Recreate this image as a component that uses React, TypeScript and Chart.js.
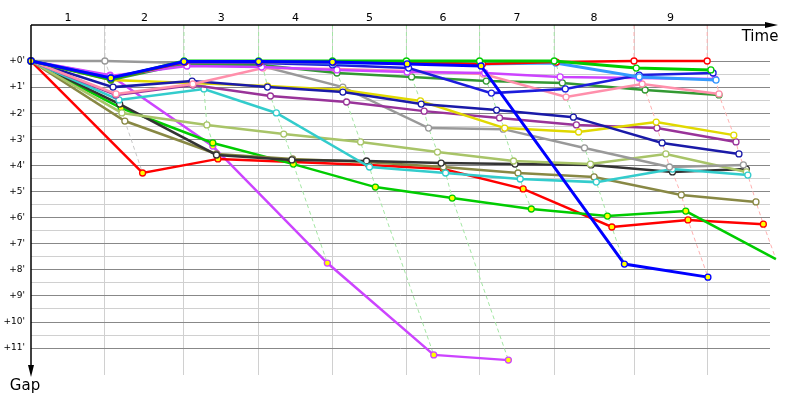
import React, { useEffect, useRef } from "react";
import { Chart, registerables } from "chart.js";

Chart.register(...registerables);

// ---- axis labels ----
const LAP_LABELS = ["1", "2", "3", "4", "5", "6", "7", "8", "9"];
const GAP_MINUTES = [0, 1, 2, 3, 4, 5, 6, 7, 8, 9, 10, 11];
const GAP_MIN = -1.38;
const GAP_MAX = 12.03;
const TIME_MIN = 0;
const TIME_MAX = 100;

// ---- riders: crossing time (min) at lap 0..n, and gap to leader (min) ----
const blueTime = [0, 10.8, 20.7, 30.8, 40.8, 50.9, 60.9, 80.3, 91.6];
const blueGap = [0, 0.65, 0.02, 0.02, 0.04, 0.11, 0.19, 7.78, 8.28];

const greenTime = [0, 10.8, 20.7, 30.8, 40.8, 50.8, 60.7, 70.8, 81.9, 92.0];
const greenGap = [0, 0.69, 0, 0, 0, 0, 0, 0, 0.27, 0.34];

const redTopTime = [0, 10.8, 20.8, 30.9, 40.9, 50.9, 61.1, 71.1, 81.6, 91.5];
const redTopGap = [0, 0.69, 0.04, 0.04, 0.04, 0.04, 0.11, 0.04, 0, 0];

const skyTime = [0, 10.8, 20.8, 30.9, 40.9, 50.9, 60.9, 71.0, 82.3, 92.7];
const skyGap = [0, 0.65, 0.04, 0.04, 0.08, 0.08, 0.11, 0.08, 0.61, 0.73];

const blue2Time = [0, 10.8, 20.8, 30.9, 40.8, 51.1, 62.3, 72.3, 82.3, 92.3];
const blue2Gap = [0, 0.65, 0.04, 0.08, 0.15, 0.27, 1.23, 1.07, 0.54, 0.46];

const violetTime = [0, 10.7, 21.1, 31.2, 41.4, 50.9, 61.4, 71.6, 82.3, 92.6];
const violetGap = [0, 0.57, 0.19, 0.23, 0.34, 0.42, 0.46, 0.61, 0.65, 0.69];

const pinkTime = [0, 11.5, 21.9, 31.4, 41.2, 51.2, 61.2, 72.4, 82.7, 93.1];
const pinkGap = [0, 1.26, 0.88, 0.27, 0.31, 0.38, 0.5, 1.38, 0.88, 1.26];

const darkGreenTime = [0, 10.8, 20.9, 31.1, 41.4, 51.5, 61.6, 71.9, 83.1, 93.1];
const darkGreenGap = [0, 0.73, 0.11, 0.15, 0.46, 0.61, 0.77, 0.84, 1.11, 1.3];

const navyTime = [0, 11.1, 21.8, 32.0, 42.2, 52.8, 63.0, 73.4, 85.4, 95.8];
const navyGap = [0, 1.0, 0.77, 1.0, 1.19, 1.65, 1.88, 2.15, 3.14, 3.56];

const yellowTime = [0, 10.8, 21.8, 32.0, 42.2, 52.7, 64.1, 74.1, 84.6, 95.1];
const yellowGap = [0, 0.73, 0.84, 0.96, 1.11, 1.53, 2.57, 2.72, 2.34, 2.84];

const purpleTime = [0, 11.5, 21.9, 32.4, 42.7, 53.2, 63.4, 73.8, 84.7, 95.4];
const purpleGap = [0, 1.3, 0.92, 1.34, 1.57, 1.92, 2.18, 2.45, 2.57, 3.1];

const grayTime = [0, 10.0, 20.9, 31.2, 42.2, 53.8, 63.9, 74.9, 86.4, 96.4];
const grayGap = [0, 0, 0.08, 0.19, 1.0, 2.57, 2.61, 3.33, 4.06, 3.98];

const cyanTime = [0, 11.9, 23.4, 33.2, 45.8, 56.1, 66.2, 76.5, 86.8, 97.0];
const cyanGap = [0, 1.49, 1.07, 1.99, 4.06, 4.29, 4.52, 4.64, 4.14, 4.37];

const lightOliveTime = [0, 12.3, 23.8, 34.2, 44.6, 55.0, 65.3, 75.7, 85.9, 96.8];
const lightOliveGap = [0, 1.99, 2.45, 2.8, 3.1, 3.49, 3.83, 3.95, 3.56, 4.25];

const blackTime = [0, 12.0, 25.1, 35.3, 45.4, 55.5, 65.5, 75.8, 86.8, 96.8];
const blackGap = [0, 1.65, 3.6, 3.79, 3.83, 3.91, 3.95, 3.98, 4.25, 4.14];

const oliveTime = [0, 12.7, 25.1, 35.4, 45.4, 55.8, 65.9, 76.2, 88.0, 98.1];
const oliveGap = [0, 2.3, 3.56, 3.75, 3.87, 4.06, 4.29, 4.44, 5.13, 5.4];

const greenLowTime = [0, 12.2, 24.6, 35.5, 46.6, 57.0, 67.7, 78.0, 88.6, 100.8];
const greenLowGap = [0, 1.8, 3.14, 3.95, 4.83, 5.25, 5.67, 5.94, 5.75, 7.59];

const redTime = [0, 15.1, 25.3, 35.5, 45.7, 55.8, 66.6, 78.6, 88.9, 99.1];
const redGap = [0, 4.29, 3.75, 3.87, 3.98, 4.14, 4.9, 6.36, 6.09, 6.25];

const magentaTime = [0, 10.7, 24.6, 40.1, 54.5, 64.6];
const magentaGap = [0, 0.54, 3.26, 7.74, 11.26, 11.46];

// ---- styles (first = drawn on top) ----
const YEL = "#ffff00";
const WHITE = "#ffffff";
const riders = [
  { t: blueTime, g: blueGap, color: "#0000ff", fill: YEL, w: 3, lap: "#aaaaff" },
  { t: greenTime, g: greenGap, color: "#00cc00", fill: WHITE, w: 3, lap: "#a3e6a3" },
  { t: redTopTime, g: redTopGap, color: "#ff0000", fill: WHITE, w: 2.5, lap: "#ffb0b0" },
  { t: skyTime, g: skyGap, color: "#3399ff", fill: WHITE, w: 3, lap: "#aaccff" },
  { t: blue2Time, g: blue2Gap, color: "#1c1cdc", fill: WHITE, w: 2.5, lap: "#aaaaff" },
  { t: violetTime, g: violetGap, color: "#cc44ff", fill: WHITE, w: 2.5, lap: "#e8b0ff" },
  { t: pinkTime, g: pinkGap, color: "#ff8fab", fill: WHITE, w: 2.5, lap: "#ffc8d5" },
  { t: darkGreenTime, g: darkGreenGap, color: "#339933", fill: WHITE, w: 2.5, lap: "#aad4aa" },
  { t: navyTime, g: navyGap, color: "#1a1aa8", fill: WHITE, w: 2.5, lap: "#aaaadd" },
  { t: yellowTime, g: yellowGap, color: "#e0d800", fill: WHITE, w: 2.5, lap: "#eeeeaa" },
  { t: purpleTime, g: purpleGap, color: "#993399", fill: WHITE, w: 2.5, lap: "#d6aad6" },
  { t: grayTime, g: grayGap, color: "#999999", fill: WHITE, w: 2.5, lap: "#c8c8c8" },
  { t: cyanTime, g: cyanGap, color: "#33cccc", fill: WHITE, w: 2.5, lap: "#aaeeee" },
  { t: lightOliveTime, g: lightOliveGap, color: "#a8c468", fill: WHITE, w: 2.5, lap: "#dde8c0" },
  { t: blackTime, g: blackGap, color: "#333333", fill: WHITE, w: 2.5, lap: "#bbbbbb" },
  { t: oliveTime, g: oliveGap, color: "#888844", fill: WHITE, w: 2.5, lap: "#cccc99" },
  { t: greenLowTime, g: greenLowGap, color: "#00cc00", fill: YEL, w: 2.5, lap: "#a3e6a3" },
  { t: redTime, g: redGap, color: "#ff0000", fill: YEL, w: 2.5, lap: "#ffb0b0" },
  { t: magentaTime, g: magentaGap, color: "#cc44ff", fill: YEL, w: 2.5, lap: "#e8b0ff" },
];

// leader of each lap (smallest gap)
function lapLeaders() {
  const out: { time: number; color: string }[] = [];
  for (let n = 1; n <= LAP_LABELS.length; n++) {
    let best: any = null;
    for (const r of riders) {
      if (r.t.length > n && (best === null || r.g[n] < best.g[n])) best = r;
    }
    out.push({ time: best.t[n], color: best.lap });
  }
  return out;
}

function lapLines(leaders: { time: number; color: string }[]) {
  return leaders.map((ld, i) => {
    const n = i + 1;
    const pts = riders
      .filter((r) => r.t.length > n)
      .map((r) => ({ x: r.t[n], y: r.g[n] }))
      .sort((a, b) => a.y - b.y || a.x - b.x);
    return {
      type: "line" as const,
      data: [{ x: ld.time, y: GAP_MIN }, ...pts],
      borderColor: ld.color,
      borderWidth: 1,
      borderDash: [4, 3],
      pointRadius: 0,
      fill: false,
      order: 1,
      clip: false as any,
    };
  });
}

const FONT = "'DejaVu Sans', Verdana, sans-serif";

const decorPlugin = {
  id: "decor",
  afterDraw(chart: any) {
    const { ctx, chartArea: a, scales } = chart;
    const xs = scales.x;
    ctx.save();
    ctx.strokeStyle = "#000";
    ctx.fillStyle = "#000";
    ctx.lineWidth = 1.5;
    // x axis with arrow
    ctx.beginPath();
    ctx.moveTo(a.left, a.top);
    ctx.lineTo(a.right - 5, a.top);
    ctx.stroke();
    ctx.beginPath();
    ctx.moveTo(a.right - 5, a.top - 3);
    ctx.lineTo(a.right + 8, a.top);
    ctx.lineTo(a.right - 5, a.top + 3);
    ctx.closePath();
    ctx.fill();
    // y axis with arrow
    ctx.beginPath();
    ctx.moveTo(a.left, a.top);
    ctx.lineTo(a.left, a.bottom - 10);
    ctx.stroke();
    ctx.beginPath();
    ctx.moveTo(a.left - 3, a.bottom - 10);
    ctx.lineTo(a.left, a.bottom + 2);
    ctx.lineTo(a.left + 3, a.bottom - 10);
    ctx.closePath();
    ctx.fill();
    // lap numbers between leader crossing times
    const leaders = lapLeaders();
    ctx.font = `11px ${FONT}`;
    ctx.textAlign = "center";
    ctx.textBaseline = "middle";
    let prev = TIME_MIN;
    leaders.forEach((ld, i) => {
      const mid = (xs.getPixelForValue(prev) + xs.getPixelForValue(ld.time)) / 2;
      ctx.fillText(LAP_LABELS[i], mid, a.top - 7);
      prev = ld.time;
    });
    // axis titles
    ctx.font = `15px ${FONT}`;
    ctx.textBaseline = "alphabetic";
    ctx.fillText("Time", a.right - 10, a.top + 16);
    ctx.fillText("Gap", a.left - 6, a.bottom + 15);
    ctx.restore();
  },
};

export default function App() {
  const ref = useRef<HTMLCanvasElement | null>(null);
  useEffect(() => {
    if (!ref.current) return;
    const leaders = lapLeaders();
    const riderSets = riders.map((r) => ({
      type: "line" as const,
      data: r.t.map((t, i) => ({ x: t, y: r.g[i] })),
      borderColor: r.color,
      borderWidth: r.w,
      pointRadius: 3,
      pointBorderWidth: 1.3,
      pointBorderColor: r.color,
      pointBackgroundColor: r.fill,
      fill: false,
      tension: 0,
      order: 0,
      clip: false as any,
    }));
    const chart = new Chart(ref.current, {
      type: "line",
      data: { datasets: [...riderSets, ...lapLines(leaders)] as any },
      options: {
        animation: false,
        responsive: false,
        events: [],
        layout: { padding: { left: 0, top: 0, right: 30, bottom: 25 } },
        plugins: { legend: { display: false }, tooltip: { enabled: false } },
        scales: {
          x: {
            type: "linear",
            position: "top",
            min: TIME_MIN,
            max: TIME_MAX,
            afterBuildTicks: (s: any) => {
              s.ticks = leaders.map((l) => ({ value: l.time }));
            },
            afterFit: (s: any) => {
              s.height = 25;
            },
            grid: { color: "#d0d0d0", lineWidth: 1, drawTicks: false },
            border: { display: false },
            ticks: { display: false },
          },
          y: {
            type: "linear",
            reverse: true,
            min: GAP_MIN,
            max: GAP_MAX,
            afterBuildTicks: (s: any) => {
              const t: any[] = [];
              GAP_MINUTES.forEach((m, i) => {
                t.push({ value: m });
                if (i < GAP_MINUTES.length - 1) t.push({ value: m + 0.5 });
              });
              s.ticks = t;
            },
            afterFit: (s: any) => {
              s.width = 31;
            },
            grid: {
              drawTicks: false,
              lineWidth: 1,
              color: (c: any) => (c.tick && Number.isInteger(c.tick.value) ? "#888888" : "#d0d0d0"),
            },
            border: { display: false },
            ticks: {
              autoSkip: false,
              padding: 6,
              color: "#000",
              font: { family: FONT, size: 9 },
              callback: (v: any) => (Number.isInteger(v) ? `+${v}'` : ""),
            },
          },
        },
      },
      plugins: [decorPlugin],
    });
    return () => chart.destroy();
  }, []);
  return (
    <div style={{ position: "fixed", left: 0, top: 0, width: 800, height: 400, background: "#fff" }}>
      <canvas ref={ref} width={800} height={400} />
    </div>
  );
}
